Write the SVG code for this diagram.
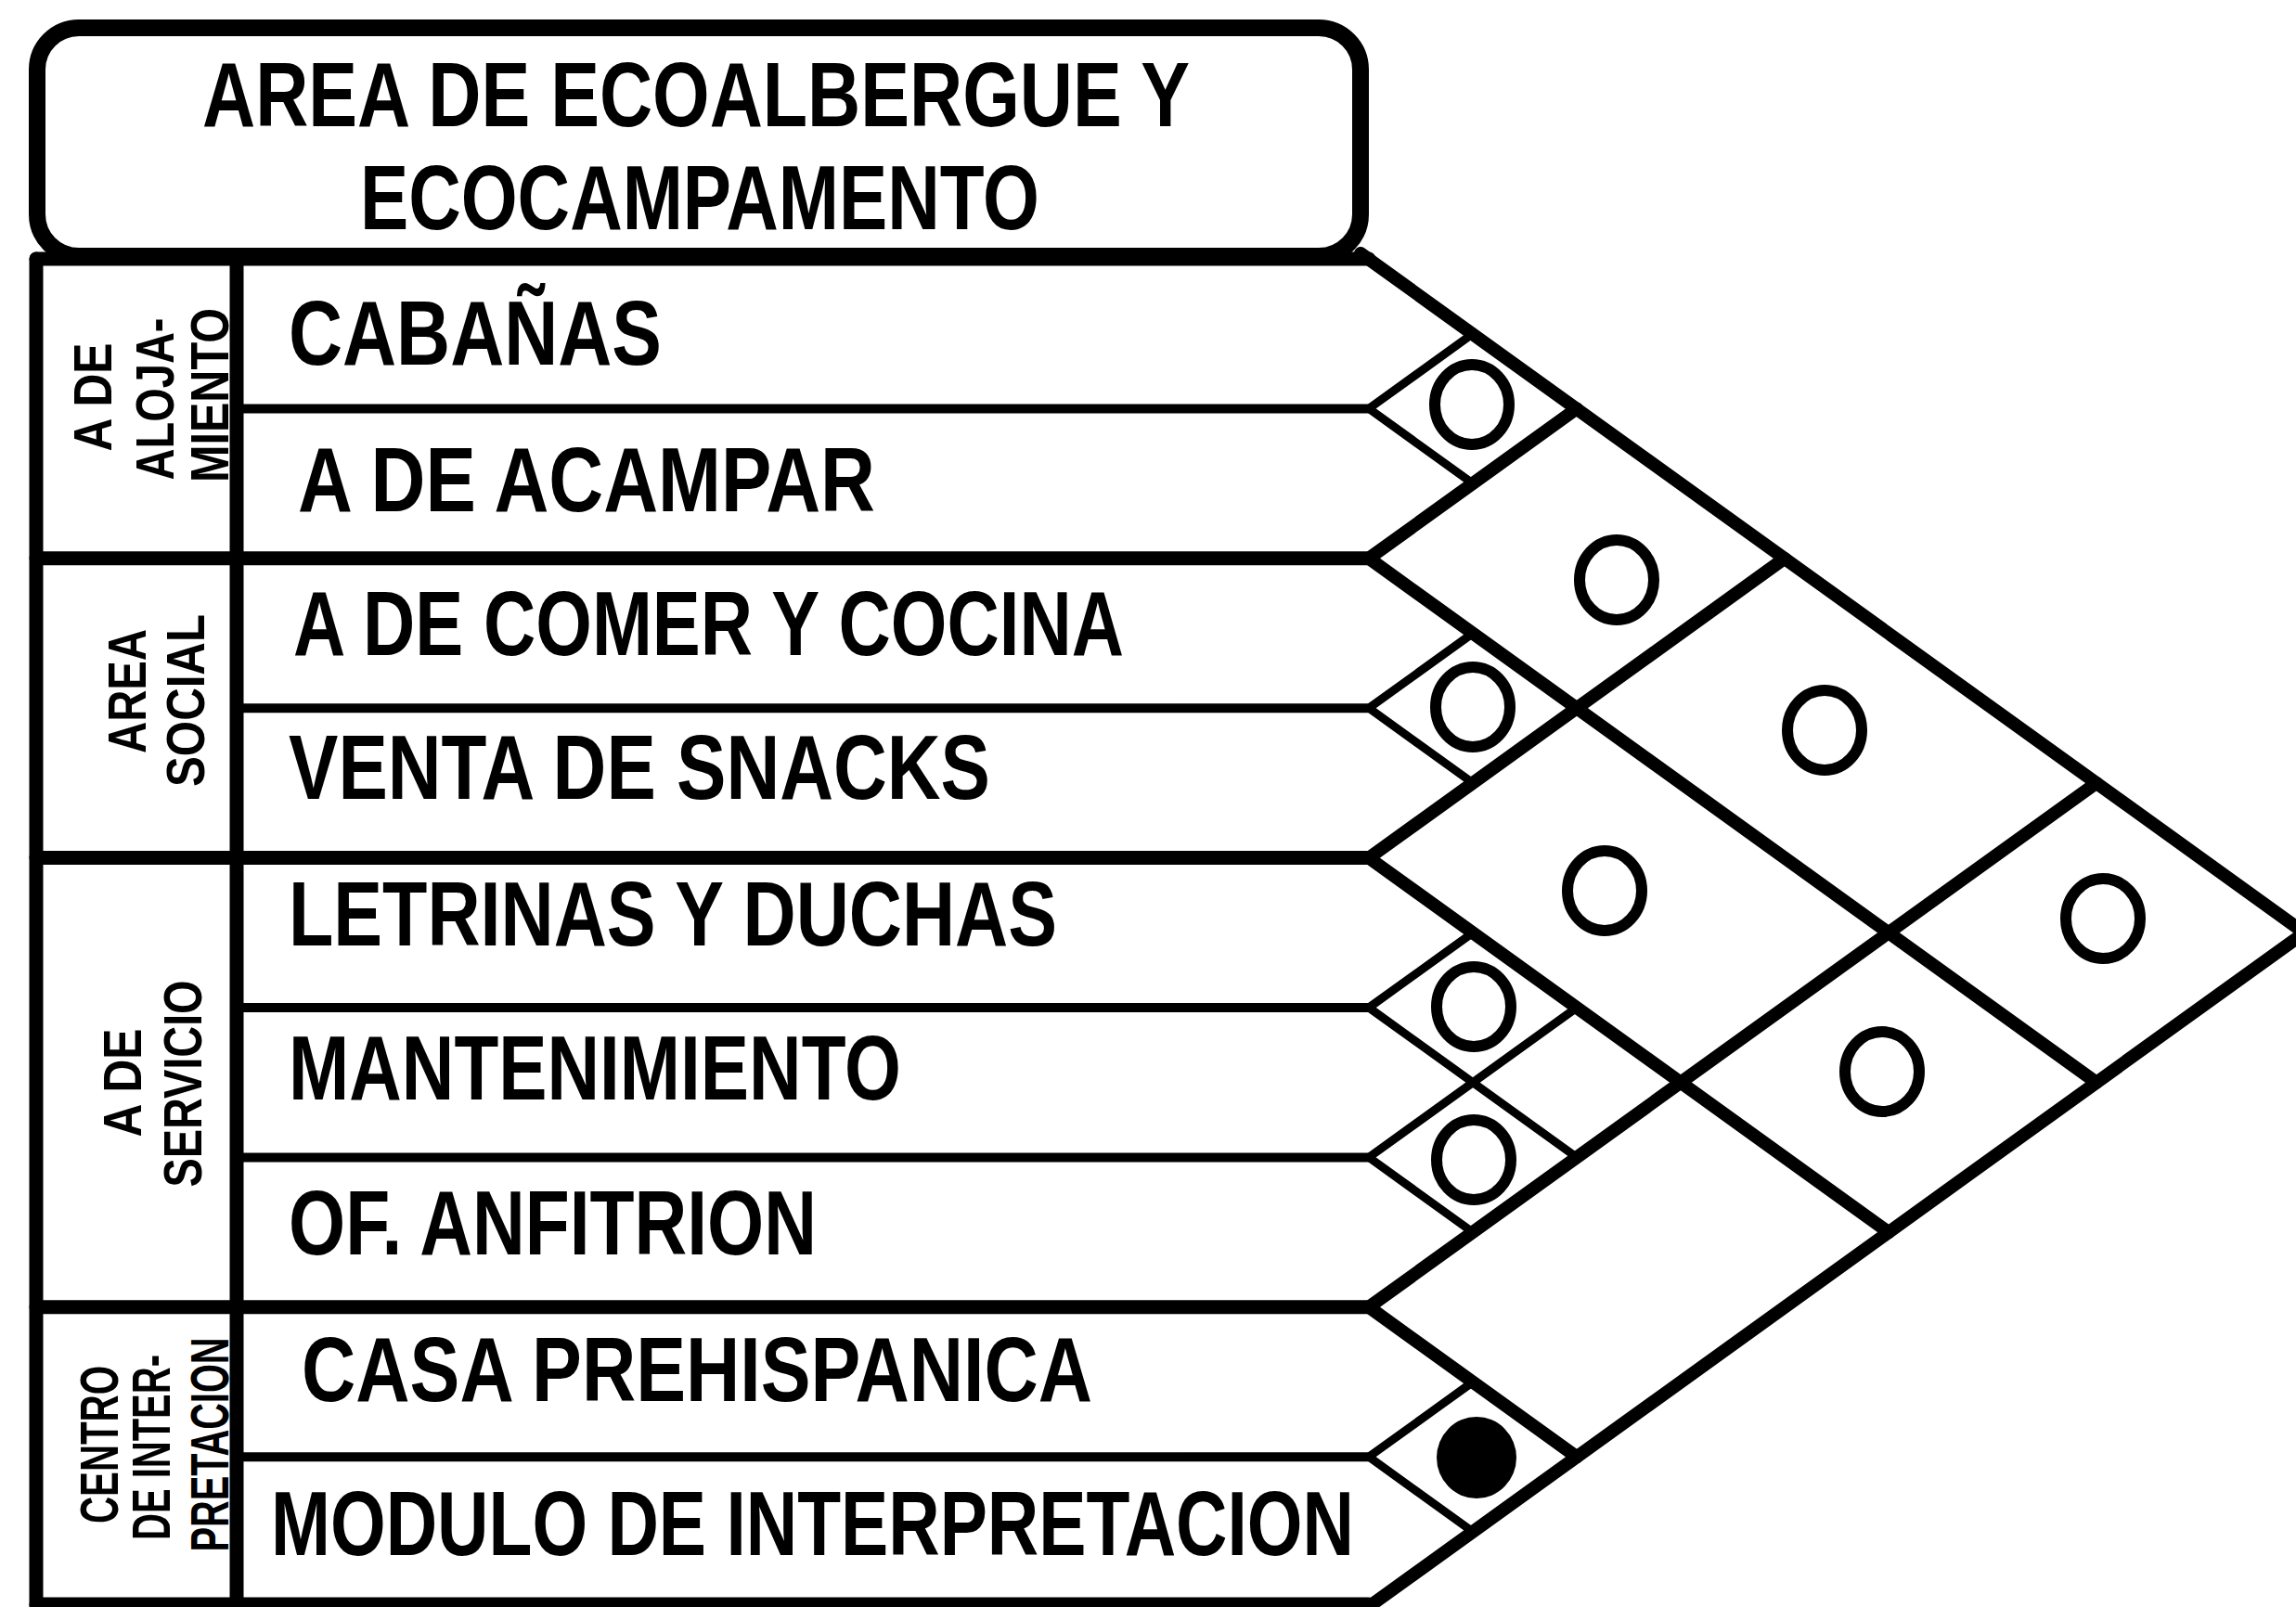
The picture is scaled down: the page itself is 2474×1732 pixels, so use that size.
<svg xmlns="http://www.w3.org/2000/svg" width="2474" height="1732" viewBox="0 0 2474 1732">
<style>
.bg{fill:#ffffff}
.frame{fill:none;stroke:#000;stroke-width:18}
.thick{fill:none;stroke:#000;stroke-width:15;stroke-linecap:round;stroke-linejoin:round}
.thin{fill:none;stroke:#000;stroke-width:10;stroke-linecap:round}
.dthick{fill:none;stroke:#000;stroke-width:14;stroke-linecap:round}
.dthin{fill:none;stroke:#000;stroke-width:9;stroke-linecap:round}
.ring{fill:none;stroke:#000;stroke-width:12}
.dot{fill:#000}
.t{font-family:"Liberation Sans",Arial,sans-serif;font-weight:bold;font-size:98px;fill:#000}
.v{font-family:"Liberation Sans",Arial,sans-serif;font-weight:bold;font-size:58px;fill:#000}
</style>
<rect class="bg" x="0" y="0" width="2474" height="1732"/>

<g id="title">
<rect class="frame" x="40" y="30" width="1426" height="246" rx="45" ry="45"/>
<text class="t" x="218" y="136" textLength="1064" lengthAdjust="spacingAndGlyphs">AREA DE ECOALBERGUE Y</text>
<text class="t" x="388" y="247" textLength="732" lengthAdjust="spacingAndGlyphs">ECOCAMPAMENTO</text>
</g>

<g id="table-frame">
<line class="thick" x1="39" y1="279" x2="1475" y2="279"/>
<line class="thick" x1="39" y1="279" x2="39" y2="1732"/>
<line class="thick" x1="255" y1="279" x2="255" y2="1732"/>
<line class="thick" x1="39" y1="601.8" x2="1475" y2="601.8"/>
<line class="thick" x1="39" y1="924.6" x2="1475" y2="924.6"/>
<line class="thick" x1="39" y1="1408.8" x2="1475" y2="1408.8"/>
<line class="thick" x1="39" y1="1729" x2="1475" y2="1729"/>
<line class="thin" x1="255" y1="440.4" x2="1475" y2="440.4"/>
<line class="thin" x1="255" y1="763.2" x2="1475" y2="763.2"/>
<line class="thin" x1="255" y1="1086" x2="1475" y2="1086"/>
<line class="thin" x1="255" y1="1247.4" x2="1475" y2="1247.4"/>
<line class="thin" x1="255" y1="1570.2" x2="1475" y2="1570.2"/>
</g>

<g id="group-alojamiento">
<text class="v" transform="translate(120,428) rotate(-90)" text-anchor="middle" textLength="117" lengthAdjust="spacingAndGlyphs">A DE</text>
<text class="v" transform="translate(187,430) rotate(-90)" text-anchor="middle" textLength="175" lengthAdjust="spacingAndGlyphs">ALOJA-</text>
<text class="v" transform="translate(246,426) rotate(-90)" text-anchor="middle" textLength="188" lengthAdjust="spacingAndGlyphs">MIENTO</text>
</g>
<g id="group-social">
<text class="v" transform="translate(157,745) rotate(-90)" text-anchor="middle" textLength="134" lengthAdjust="spacingAndGlyphs">AREA</text>
<text class="v" transform="translate(220,755) rotate(-90)" text-anchor="middle" textLength="186" lengthAdjust="spacingAndGlyphs">SOCIAL</text>
</g>
<g id="group-servicio">
<text class="v" transform="translate(152,1167) rotate(-90)" text-anchor="middle" textLength="117" lengthAdjust="spacingAndGlyphs">A DE</text>
<text class="v" transform="translate(217,1168) rotate(-90)" text-anchor="middle" textLength="223" lengthAdjust="spacingAndGlyphs">SERVICIO</text>
</g>
<g id="group-interpretacion">
<text class="v" transform="translate(127,1557) rotate(-90)" text-anchor="middle" textLength="170" lengthAdjust="spacingAndGlyphs">CENTRO</text>
<text class="v" transform="translate(183,1560) rotate(-90)" text-anchor="middle" textLength="200" lengthAdjust="spacingAndGlyphs">DE INTER-</text>
<text class="v" transform="translate(246,1557) rotate(-90)" text-anchor="middle" textLength="231" lengthAdjust="spacingAndGlyphs">PRETACION</text>
</g>

<g id="row-cabanas"><text class="t" x="311" y="393" textLength="402" lengthAdjust="spacingAndGlyphs">CABAÑAS</text></g>
<g id="row-acampar"><text class="t" x="321" y="551" textLength="622" lengthAdjust="spacingAndGlyphs">A DE ACAMPAR</text></g>
<g id="row-comer"><text class="t" x="316" y="706" textLength="895" lengthAdjust="spacingAndGlyphs">A DE COMER Y COCINA</text></g>
<g id="row-snacks"><text class="t" x="311" y="861" textLength="756" lengthAdjust="spacingAndGlyphs">VENTA DE SNACKS</text></g>
<g id="row-letrinas"><text class="t" x="311" y="1019" textLength="828" lengthAdjust="spacingAndGlyphs">LETRINAS Y DUCHAS</text></g>
<g id="row-mantenimiento"><text class="t" x="311" y="1185" textLength="660" lengthAdjust="spacingAndGlyphs">MANTENIMIENTO</text></g>
<g id="row-anfitrion"><text class="t" x="311" y="1352" textLength="569" lengthAdjust="spacingAndGlyphs">OF. ANFITRION</text></g>
<g id="row-casa"><text class="t" x="325" y="1510" textLength="852" lengthAdjust="spacingAndGlyphs">CASA PREHISPANICA</text></g>
<g id="row-modulo"><text class="t" x="292" y="1676" textLength="1167" lengthAdjust="spacingAndGlyphs">MODULO DE INTERPRETACION</text></g>

<g id="connectors">
<line class="dthick" x1="1466" y1="273" x2="2483" y2="1005.3"/>
<line class="dthick" x1="1475" y1="601.8" x2="1699" y2="440.4"/>
<line class="dthick" x1="1475" y1="601.8" x2="2259" y2="1166.7"/>
<line class="dthick" x1="1475" y1="924.6" x2="1923" y2="601.8"/>
<line class="dthick" x1="1475" y1="924.6" x2="2035" y2="1328.1"/>
<line class="dthick" x1="1475" y1="1408.8" x2="2259" y2="843.9"/>
<line class="dthick" x1="1475" y1="1408.8" x2="1699" y2="1570.2"/>
<line class="dthick" x1="1475" y1="1731.6" x2="2483" y2="1005.3"/>
<line class="dthin" x1="1475" y1="440.4" x2="1587" y2="359.7"/>
<line class="dthin" x1="1475" y1="440.4" x2="1587" y2="521.1"/>
<line class="dthin" x1="1475" y1="763.2" x2="1587" y2="682.5"/>
<line class="dthin" x1="1475" y1="763.2" x2="1587" y2="843.9"/>
<line class="dthin" x1="1475" y1="1086" x2="1587" y2="1005.3"/>
<line class="dthin" x1="1475" y1="1086" x2="1699" y2="1247.4"/>
<line class="dthin" x1="1475" y1="1247.4" x2="1699" y2="1086"/>
<line class="dthin" x1="1475" y1="1247.4" x2="1587" y2="1328.1"/>
<line class="dthin" x1="1475" y1="1570.2" x2="1587" y2="1489.5"/>
<line class="dthin" x1="1475" y1="1570.2" x2="1587" y2="1650.9"/>
</g>

<g id="cell-cabanas-acampar"><ellipse class="ring" cx="1586" cy="436" rx="40" ry="43"/></g>
<g id="cell-alojamiento-social"><ellipse class="ring" cx="1742" cy="625" rx="40" ry="43"/></g>
<g id="cell-comer-snacks"><ellipse class="ring" cx="1587" cy="762" rx="40" ry="43"/></g>
<g id="cell-alojamiento-servicio"><ellipse class="ring" cx="1966" cy="787" rx="40" ry="43"/></g>
<g id="cell-social-servicio"><ellipse class="ring" cx="1729" cy="960" rx="40" ry="43"/></g>
<g id="cell-letrinas-mantenimiento"><ellipse class="ring" cx="1588" cy="1085" rx="40" ry="43"/></g>
<g id="cell-alojamiento-interpretacion"><ellipse class="ring" cx="2266" cy="990" rx="40" ry="43"/></g>
<g id="cell-mantenimiento-anfitrion"><ellipse class="ring" cx="1588" cy="1250" rx="40" ry="43"/></g>
<g id="cell-social-interpretacion"><ellipse class="ring" cx="2028" cy="1155" rx="40" ry="43"/></g>
<g id="cell-casa-modulo"><ellipse class="dot" cx="1591" cy="1571" rx="43" ry="44"/></g>
</svg>
